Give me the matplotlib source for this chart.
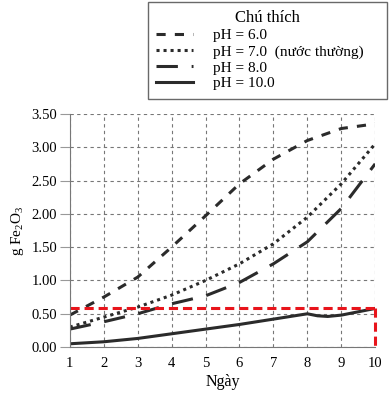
import matplotlib
matplotlib.use('Agg')
import matplotlib.pyplot as plt

plt.rcParams['font.family'] = ['Liberation Serif', 'DejaVu Serif']
plt.rcParams['mathtext.fontset'] = 'custom'
plt.rcParams['mathtext.rm'] = 'Liberation Serif'

# data
days = [1, 2, 3, 4, 5, 6, 7, 8, 9, 10]
ph6 = [0.48, 0.75, 1.05, 1.50, 1.97, 2.45, 2.82, 3.10, 3.28, 3.35]
ph7 = [0.30, 0.45, 0.60, 0.78, 1.00, 1.25, 1.55, 1.95, 2.45, 3.05]
ph8 = [0.27, 0.38, 0.50, 0.65, 0.77, 0.97, 1.25, 1.58, 2.08, 2.75]
days10 = [1, 2, 3, 4, 5, 6, 7, 8, 8.3, 8.6, 9, 10]
ph10 = [0.05, 0.08, 0.13, 0.20, 0.27, 0.34, 0.42, 0.50, 0.47, 0.46, 0.48, 0.58]
limit = 0.59

fig = plt.figure(figsize=(3.9, 3.94), dpi=100)
ax = fig.add_axes([0.179, 0.119, 0.783, 0.592])

c = '#2b2b2b'
ax.plot(days, ph6, color=c, lw=2.2, dashes=(3, 3), label='pH = 6.0')
ax.plot(days, ph7, color=c, lw=2.2, dashes=(1, 1.3), label='pH = 7.0  (nước thường)')
ax.plot(days, ph8, color=c, lw=2.2, dashes=(7, 4.5), label='pH = 8.0')
ax.plot(days10, ph10, color=c, lw=2.2, label='pH = 10.0')

# red limit box
ax.plot([1, 10], [limit, limit], color='#e8141b', lw=2.2, dashes=(3, 1.6), clip_on=False)
ax.plot([10, 10], [limit, 0], color='#e8141b', lw=2.2, dashes=(3, 1.6), clip_on=False)

ax.set_xlim(1, 10)
ax.set_ylim(0, 3.5)
ax.set_xticks(days)
ax.set_yticks([0, 0.5, 1, 1.5, 2, 2.5, 3, 3.5])
ax.set_yticklabels(['%.2f' % v for v in ax.get_yticks()])
ax.grid(True, color='#777777', ls=(0, (3, 3)), lw=0.8)
ax.set_axisbelow(True)
for s in ['top', 'right']:
    ax.spines[s].set_visible(False)
for s in ['left', 'bottom']:
    ax.spines[s].set_color('#777777')
ax.tick_params(axis='y', length=7, color='#999999', labelsize=10.5, pad=2)
ax.tick_params(axis='x', length=0, labelsize=10.5, pad=7)
ax.set_xlabel('Ngày', fontsize=11.5, labelpad=3)
ax.set_ylabel(r'g Fe$_2$O$_3$', fontsize=11, labelpad=4)

leg = fig.legend(loc='upper left', bbox_to_anchor=(148 / 390, 0.995, 239 / 390, 0),
                 mode='expand', title='Chú thích',
                 fontsize=11, title_fontsize=12, frameon=True, fancybox=False,
                 handlelength=2.4, handletextpad=1.3, labelspacing=0.15,
                 borderpad=0.55, borderaxespad=0)
leg.get_frame().set_edgecolor('#444444')
leg.get_frame().set_linewidth(1.0)

fig.savefig('out.png', dpi=100)
